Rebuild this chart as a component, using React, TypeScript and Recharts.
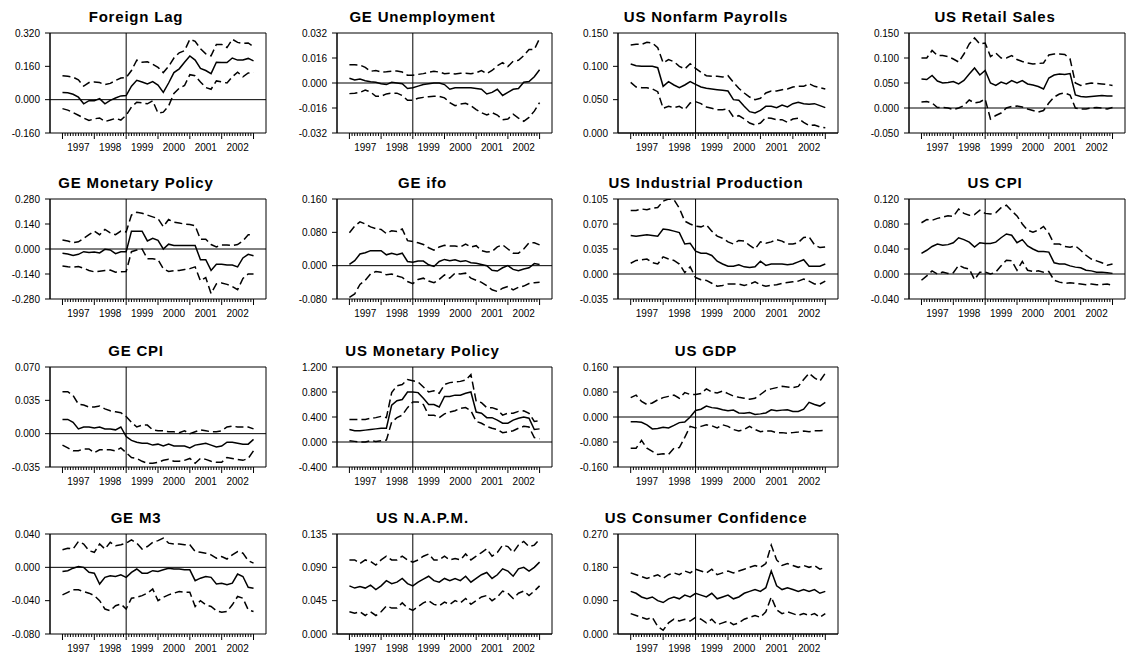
import React from 'react';
import { LineChart, Line, XAxis, YAxis, ReferenceLine, ReferenceArea } from 'recharts';

const FONT = '"Liberation Sans", Arial, Helvetica, sans-serif';

// month index (0 = Jan 1997), sampled every two months
const MONTHS = [0, 2, 4, 6, 8, 10, 12, 14, 16, 18, 20, 22, 24, 26, 28, 30, 32, 34, 36, 38, 40, 42, 44, 46, 48, 50, 52, 54, 56, 58, 60, 62, 64, 66, 68, 70, 72];
const TICK_MONTHS = [0, 1, 2, 3, 4, 5, 6, 7, 8, 9, 10, 11, 12, 13, 14, 15, 16, 17, 18, 19, 20, 21, 22, 23, 24, 25, 26, 27, 28, 29, 30, 31, 32, 33, 34, 35, 36, 37, 38, 39, 40, 41, 42, 43, 44, 45, 46, 47, 48, 49, 50, 51, 52, 53, 54, 55, 56, 57, 58, 59, 60, 61, 62, 63, 64, 65, 66, 67, 68, 69, 70, 71, 72];
const YEAR_LABELS = ['1997', '1998', '1999', '2000', '2001', '2002'];

// Foreign Lag
const foreignLagMid = [0.034, 0.033, 0.026, 0.012, -0.02, -0.005, -0.005, 0.005, -0.02, -0.003, 0.008, 0.018, 0.02, 0.065, 0.093, 0.085, 0.075, 0.087, 0.07, 0.035, 0.08, 0.13, 0.148, 0.18, 0.21, 0.19, 0.15, 0.14, 0.125, 0.18, 0.178, 0.178, 0.2, 0.19, 0.19, 0.198, 0.186];
const foreignLagUp = [0.115, 0.112, 0.108, 0.095, 0.065, 0.082, 0.085, 0.082, 0.072, 0.078, 0.092, 0.104, 0.106, 0.14, 0.19, 0.18, 0.182, 0.17, 0.155, 0.13, 0.16, 0.2, 0.225, 0.235, 0.29, 0.28, 0.245, 0.22, 0.21, 0.265, 0.265, 0.25, 0.29, 0.275, 0.27, 0.272, 0.255];
const foreignLagLo = [-0.043, -0.05, -0.062, -0.075, -0.088, -0.1, -0.092, -0.088, -0.105, -0.098, -0.09, -0.098, -0.075, -0.035, -0.012, -0.015, -0.02, -0.005, -0.065, -0.06, -0.03, 0.03, 0.055, 0.068, 0.12, 0.115, 0.085, 0.058, 0.05, 0.09, 0.085, 0.08, 0.11, 0.132, 0.11, 0.128, 0.13];
const foreignLagTicks = [-0.16, 0, 0.16, 0.32];

// GE Unemployment
const geUnempMid = [0.003, 0.002, 0.0025, 0.0015, 0.0008, 0.0005, -0.0005, -0.001, 0.0005, 0, -0.0005, -0.0035, -0.003, -0.002, -0.001, -0.0005, 0, 0, -0.001, -0.004, -0.003, -0.003, -0.003, -0.003, -0.0035, -0.004, -0.007, -0.006, -0.004, -0.008, -0.006, -0.004, -0.0035, 0.0005, 0.001, 0.004, 0.0085];
const geUnempUp = [0.0117, 0.0117, 0.0115, 0.01, 0.0075, 0.008, 0.007, 0.0072, 0.0075, 0.0077, 0.007, 0.005, 0.005, 0.0055, 0.006, 0.0068, 0.0075, 0.007, 0.006, 0.0062, 0.0058, 0.0062, 0.0062, 0.006, 0.0065, 0.008, 0.006, 0.008, 0.011, 0.013, 0.0105, 0.014, 0.0145, 0.0175, 0.0215, 0.0215, 0.0285];
const geUnempLo = [-0.0068, -0.0066, -0.006, -0.0045, -0.0058, -0.0085, -0.0085, -0.007, -0.0065, -0.0065, -0.008, -0.011, -0.011, -0.0098, -0.0092, -0.0088, -0.0085, -0.0085, -0.0095, -0.0125, -0.0145, -0.0135, -0.013, -0.0145, -0.017, -0.019, -0.0205, -0.019, -0.0205, -0.0235, -0.023, -0.02, -0.0225, -0.0245, -0.022, -0.018, -0.0125];
const geUnempTicks = [-0.032, -0.016, 0, 0.016, 0.032];

// US Nonfarm Payrolls
const usPayrollsMid = [0.1035, 0.101, 0.1, 0.1, 0.1, 0.098, 0.07, 0.077, 0.072, 0.068, 0.072, 0.077, 0.073, 0.069, 0.067, 0.066, 0.065, 0.064, 0.063, 0.05, 0.049, 0.04, 0.032, 0.03, 0.034, 0.04, 0.04, 0.038, 0.042, 0.039, 0.044, 0.046, 0.044, 0.043, 0.044, 0.041, 0.038];
const usPayrollsUp = [0.132, 0.133, 0.133, 0.136, 0.135, 0.128, 0.105, 0.11, 0.107, 0.1, 0.096, 0.104, 0.097, 0.091, 0.086, 0.085, 0.085, 0.084, 0.086, 0.076, 0.067, 0.06, 0.054, 0.05, 0.052, 0.06, 0.063, 0.063, 0.065, 0.066, 0.069, 0.07, 0.07, 0.074, 0.07, 0.068, 0.066];
const usPayrollsLo = [0.076, 0.069, 0.068, 0.068, 0.066, 0.062, 0.037, 0.04, 0.038, 0.04, 0.035, 0.045, 0.047, 0.044, 0.039, 0.037, 0.035, 0.035, 0.036, 0.024, 0.026, 0.021, 0.015, 0.012, 0.015, 0.023, 0.022, 0.02, 0.02, 0.016, 0.021, 0.022, 0.016, 0.011, 0.012, 0.009, 0.008];
const usPayrollsTicks = [0, 0.05, 0.1, 0.15];

// US Retail Sales
const usRetailMid = [0.058, 0.057, 0.065, 0.054, 0.05, 0.051, 0.053, 0.048, 0.055, 0.068, 0.08, 0.066, 0.075, 0.05, 0.045, 0.052, 0.048, 0.055, 0.05, 0.055, 0.048, 0.046, 0.043, 0.038, 0.06, 0.066, 0.068, 0.067, 0.069, 0.026, 0.023, 0.022, 0.023, 0.024, 0.025, 0.024, 0.024];
const usRetailUp = [0.1, 0.1, 0.115, 0.105, 0.105, 0.103, 0.098, 0.092, 0.108, 0.128, 0.14, 0.128, 0.13, 0.103, 0.11, 0.1, 0.1, 0.105, 0.097, 0.093, 0.09, 0.088, 0.089, 0.09, 0.106, 0.108, 0.108, 0.107, 0.098, 0.05, 0.045, 0.048, 0.05, 0.049, 0.048, 0.047, 0.045];
const usRetailLo = [0.012, 0.013, 0.01, 0.001, 0.001, 0, -0.003, 0, 0.005, 0.016, 0.01, 0.012, 0.018, -0.022, -0.015, -0.01, 0, 0.003, 0.004, 0.002, -0.002, -0.005, -0.008, -0.005, 0.01, 0.022, 0.028, 0.03, 0.026, 0, -0.002, -0.002, 0, 0.001, 0, -0.002, 0.001];
const usRetailTicks = [-0.05, 0, 0.05, 0.1, 0.15];

// GE Monetary Policy
const geMonPolMid = [-0.024, -0.028, -0.036, -0.03, -0.015, -0.02, -0.017, -0.022, -0.002, -0.005, -0.026, -0.015, -0.015, 0.1, 0.1, 0.1, 0.045, 0.06, 0.048, 0, 0.027, 0.02, 0.02, 0.02, 0.02, 0.02, -0.06, -0.06, -0.12, -0.085, -0.085, -0.09, -0.09, -0.1, -0.05, -0.03, -0.038];
const geMonPolUp = [0.05, 0.045, 0.035, 0.04, 0.06, 0.08, 0.1, 0.08, 0.11, 0.09, 0.08, 0.1, 0.096, 0.19, 0.206, 0.2, 0.19, 0.18, 0.17, 0.125, 0.165, 0.15, 0.145, 0.14, 0.137, 0.13, 0.055, 0.055, 0.025, 0.012, 0.022, 0.022, 0.02, 0.025, 0.045, 0.08, 0.078];
const geMonPolLo = [-0.095, -0.1, -0.102, -0.098, -0.108, -0.12, -0.128, -0.124, -0.12, -0.118, -0.13, -0.128, -0.126, -0.015, -0.006, 0, -0.055, -0.055, -0.06, -0.11, -0.126, -0.122, -0.12, -0.115, -0.11, -0.1, -0.178, -0.16, -0.25, -0.195, -0.19, -0.198, -0.21, -0.228, -0.165, -0.14, -0.14];
const geMonPolTicks = [-0.28, -0.14, 0, 0.14, 0.28];

// GE ifo
const geIfoMid = [0.003, 0.012, 0.028, 0.031, 0.036, 0.036, 0.036, 0.026, 0.03, 0.026, 0.03, 0.01, 0.008, 0.011, 0.011, 0.002, -0.002, 0.01, 0.015, 0.012, 0.014, 0.01, 0.012, 0.007, 0.006, 0.003, 0, -0.011, -0.013, -0.005, 0, -0.009, -0.012, -0.008, -0.005, 0.005, 0.003];
const geIfoUp = [0.079, 0.095, 0.105, 0.1, 0.093, 0.089, 0.087, 0.077, 0.084, 0.082, 0.088, 0.06, 0.058, 0.055, 0.051, 0.043, 0.037, 0.045, 0.049, 0.047, 0.047, 0.045, 0.052, 0.045, 0.048, 0.036, 0.033, 0.034, 0.045, 0.05, 0.04, 0.03, 0.03, 0.04, 0.055, 0.055, 0.05];
const geIfoLo = [-0.076, -0.068, -0.045, -0.035, -0.02, -0.014, -0.016, -0.022, -0.02, -0.025, -0.028, -0.038, -0.043, -0.033, -0.03, -0.037, -0.041, -0.033, -0.022, -0.03, -0.018, -0.02, -0.018, -0.03, -0.035, -0.04, -0.048, -0.058, -0.062, -0.054, -0.05, -0.058, -0.052, -0.049, -0.043, -0.041, -0.04];
const geIfoTicks = [-0.08, 0, 0.08, 0.16];

// US Industrial Production
const usIndProdMid = [0.054, 0.053, 0.054, 0.055, 0.054, 0.053, 0.063, 0.062, 0.06, 0.058, 0.042, 0.043, 0.032, 0.029, 0.029, 0.026, 0.018, 0.014, 0.011, 0.011, 0.013, 0.01, 0.009, 0.01, 0.018, 0.012, 0.014, 0.014, 0.014, 0.013, 0.014, 0.017, 0.02, 0.011, 0.011, 0.011, 0.014];
const usIndProdUp = [0.089, 0.089, 0.091, 0.09, 0.092, 0.093, 0.102, 0.105, 0.104, 0.092, 0.074, 0.07, 0.067, 0.066, 0.069, 0.06, 0.053, 0.05, 0.045, 0.042, 0.047, 0.046, 0.04, 0.035, 0.045, 0.043, 0.045, 0.048, 0.046, 0.042, 0.042, 0.044, 0.051, 0.052, 0.041, 0.037, 0.038];
const usIndProdLo = [0.015, 0.019, 0.02, 0.021, 0.016, 0.014, 0.024, 0.021, 0.019, 0.014, 0.002, 0.01, -0.005, -0.008, -0.009, -0.013, -0.017, -0.016, -0.014, -0.014, -0.014, -0.016, -0.014, -0.011, -0.015, -0.017, -0.016, -0.015, -0.013, -0.012, -0.011, -0.01, -0.007, -0.01, -0.014, -0.014, -0.01];
const usIndProdTicks = [-0.035, 0, 0.035, 0.07, 0.105];

// US CPI
const usCpiMid = [0.033, 0.038, 0.044, 0.048, 0.046, 0.047, 0.05, 0.058, 0.055, 0.051, 0.043, 0.05, 0.049, 0.049, 0.051, 0.058, 0.064, 0.062, 0.05, 0.055, 0.045, 0.04, 0.036, 0.036, 0.035, 0.018, 0.016, 0.016, 0.013, 0.011, 0.01, 0.006, 0.005, 0.003, 0.003, 0.002, 0.001];
const usCpiUp = [0.082, 0.087, 0.086, 0.089, 0.091, 0.093, 0.092, 0.104, 0.097, 0.094, 0.095, 0.102, 0.097, 0.096, 0.098, 0.106, 0.11, 0.101, 0.093, 0.08, 0.07, 0.067, 0.07, 0.076, 0.065, 0.048, 0.048, 0.044, 0.043, 0.045, 0.038, 0.03, 0.024, 0.021, 0.018, 0.014, 0.016];
const usCpiLo = [-0.01, -0.003, 0.005, 0, 0.003, 0.001, 0.002, 0.014, 0.01, 0.008, -0.009, 0.003, 0.003, 0, 0.003, 0.013, 0.022, 0.021, 0.006, 0.02, 0.006, 0.004, 0.005, 0.003, 0.004, -0.01, -0.013, -0.015, -0.014, -0.015, -0.016, -0.017, -0.016, -0.017, -0.017, -0.016, -0.018];
const usCpiTicks = [-0.04, 0, 0.04, 0.08, 0.12];

// GE CPI
const geCpiMid = [0.015, 0.015, 0.012, 0.005, 0.007, 0.007, 0.006, 0.007, 0.005, 0.005, 0.004, 0.007, -0.003, -0.007, -0.009, -0.01, -0.01, -0.012, -0.011, -0.013, -0.011, -0.013, -0.013, -0.013, -0.015, -0.012, -0.011, -0.01, -0.012, -0.014, -0.013, -0.009, -0.009, -0.01, -0.011, -0.011, -0.006];
const geCpiUp = [0.044, 0.044, 0.04, 0.031, 0.03, 0.028, 0.028, 0.029, 0.026, 0.024, 0.023, 0.022, 0.018, 0.012, 0.007, 0.009, 0.009, 0.004, 0.003, 0.003, 0.002, 0.002, 0.001, 0.003, 0, 0.002, 0.004, 0.003, 0.002, 0.002, 0.003, 0.007, 0.008, 0.007, 0.007, 0.007, 0.005];
const geCpiLo = [-0.012, -0.015, -0.018, -0.018, -0.016, -0.016, -0.02, -0.017, -0.017, -0.017, -0.018, -0.015, -0.02, -0.025, -0.026, -0.029, -0.031, -0.031, -0.03, -0.028, -0.027, -0.029, -0.029, -0.028, -0.026, -0.031, -0.026, -0.027, -0.029, -0.03, -0.03, -0.025, -0.026, -0.027, -0.028, -0.026, -0.018];
const geCpiTicks = [-0.035, 0, 0.035, 0.07];

// US Monetary Policy
const usMonPolMid = [0.2, 0.18, 0.18, 0.19, 0.2, 0.21, 0.22, 0.22, 0.59, 0.66, 0.68, 0.8, 0.8, 0.79, 0.7, 0.6, 0.6, 0.56, 0.73, 0.73, 0.75, 0.75, 0.78, 0.8, 0.48, 0.46, 0.39, 0.39, 0.35, 0.3, 0.3, 0.35, 0.38, 0.4, 0.38, 0.2, 0.21];
const usMonPolUp = [0.36, 0.36, 0.36, 0.36, 0.38, 0.39, 0.41, 0.39, 0.79, 0.9, 0.92, 1.0, 0.98, 0.96, 0.88, 0.8, 0.82, 0.78, 0.92, 0.95, 0.96, 0.97, 0.99, 1.08, 0.65, 0.63, 0.55, 0.55, 0.52, 0.43, 0.46, 0.46, 0.49, 0.5, 0.46, 0.33, 0.34];
const usMonPolLo = [0.02, 0.01, 0, 0, 0.02, 0.01, 0.02, 0.03, 0.32, 0.39, 0.43, 0.55, 0.64, 0.64, 0.6, 0.43, 0.43, 0.39, 0.45, 0.48, 0.5, 0.54, 0.55, 0.5, 0.33, 0.3, 0.25, 0.22, 0.2, 0.15, 0.16, 0.18, 0.22, 0.25, 0.24, 0.07, 0.05];
const usMonPolTicks = [-0.4, 0, 0.4, 0.8, 1.2];

// US GDP
const usGdpMid = [-0.015, -0.015, -0.017, -0.025, -0.038, -0.037, -0.033, -0.035, -0.027, -0.018, -0.016, 0, 0.021, 0.025, 0.035, 0.03, 0.028, 0.023, 0.02, 0.022, 0.013, 0.012, 0.014, 0.008, 0.01, 0.013, 0.023, 0.02, 0.022, 0.023, 0.018, 0.018, 0.025, 0.047, 0.04, 0.035, 0.047];
const usGdpUp = [0.062, 0.07, 0.05, 0.04, 0.045, 0.055, 0.062, 0.066, 0.07, 0.06, 0.078, 0.072, 0.072, 0.075, 0.09, 0.08, 0.077, 0.083, 0.075, 0.067, 0.063, 0.06, 0.057, 0.06, 0.072, 0.085, 0.09, 0.094, 0.098, 0.096, 0.094, 0.098, 0.12, 0.14, 0.125, 0.115, 0.14];
const usGdpLo = [-0.1, -0.1, -0.075, -0.1, -0.11, -0.12, -0.118, -0.12, -0.1, -0.098, -0.065, -0.03, -0.035, -0.03, -0.025, -0.028, -0.035, -0.025, -0.03, -0.04, -0.045, -0.04, -0.03, -0.04, -0.047, -0.045, -0.045, -0.05, -0.05, -0.052, -0.05, -0.048, -0.045, -0.047, -0.044, -0.044, -0.043];
const usGdpTicks = [-0.16, -0.08, 0, 0.08, 0.16];

// GE M3
const geM3Mid = [-0.005, -0.004, -0.001, 0.001, 0, -0.006, -0.007, -0.02, -0.012, -0.01, -0.011, -0.009, -0.012, -0.006, -0.002, -0.007, -0.007, -0.004, -0.005, -0.003, -0.001, -0.002, -0.002, -0.003, -0.003, -0.016, -0.013, -0.011, -0.012, -0.02, -0.019, -0.021, -0.019, -0.008, -0.011, -0.024, -0.025];
const geM3Up = [0.021, 0.023, 0.022, 0.031, 0.028, 0.02, 0.018, 0.028, 0.022, 0.03, 0.026, 0.027, 0.029, 0.033, 0.029, 0.022, 0.025, 0.03, 0.032, 0.035, 0.029, 0.028, 0.028, 0.027, 0.027, 0.019, 0.018, 0.017, 0.015, 0.011, 0.013, 0.01, 0.015, 0.019, 0.017, 0.008, 0.005];
const geM3Lo = [-0.033, -0.03, -0.027, -0.027, -0.029, -0.031, -0.034, -0.04, -0.05, -0.052, -0.046, -0.044, -0.05, -0.037, -0.036, -0.034, -0.031, -0.026, -0.04, -0.036, -0.033, -0.031, -0.029, -0.03, -0.03, -0.047, -0.04, -0.045, -0.047, -0.052, -0.054, -0.053, -0.045, -0.035, -0.037, -0.051, -0.053];
const geM3Ticks = [-0.08, -0.04, 0, 0.04];

// US N.A.P.M.
const usNapmMid = [0.065, 0.062, 0.064, 0.062, 0.066, 0.06, 0.065, 0.072, 0.068, 0.07, 0.075, 0.068, 0.065, 0.07, 0.074, 0.078, 0.072, 0.07, 0.075, 0.072, 0.075, 0.072, 0.078, 0.07, 0.075, 0.08, 0.083, 0.075, 0.08, 0.088, 0.085, 0.078, 0.088, 0.09, 0.085, 0.09, 0.097];
const usNapmUp = [0.1, 0.1, 0.095, 0.1, 0.098, 0.093, 0.1, 0.105, 0.1, 0.1, 0.105, 0.1, 0.097, 0.1, 0.105, 0.108, 0.1, 0.1, 0.105, 0.1, 0.102, 0.1, 0.108, 0.1, 0.105, 0.11, 0.115, 0.105, 0.11, 0.12, 0.118, 0.11, 0.12, 0.125, 0.118, 0.12, 0.128];
const usNapmLo = [0.03, 0.028, 0.03, 0.025, 0.03, 0.025, 0.03, 0.038, 0.035, 0.035, 0.042, 0.035, 0.032, 0.037, 0.042, 0.045, 0.04, 0.038, 0.043, 0.04, 0.045, 0.042, 0.048, 0.04, 0.045, 0.05, 0.052, 0.045, 0.05, 0.058, 0.055, 0.048, 0.055, 0.058, 0.052, 0.058, 0.065];
const usNapmTicks = [0, 0.045, 0.09, 0.135];

// US Consumer Confidence
const usConfMid = [0.115, 0.11, 0.1, 0.095, 0.1, 0.09, 0.085, 0.095, 0.1, 0.095, 0.105, 0.1, 0.11, 0.105, 0.1, 0.11, 0.095, 0.1, 0.105, 0.095, 0.1, 0.11, 0.115, 0.12, 0.115, 0.125, 0.17, 0.13, 0.12, 0.125, 0.12, 0.115, 0.12, 0.115, 0.12, 0.11, 0.115];
const usConfUp = [0.165, 0.16, 0.155, 0.15, 0.155, 0.16, 0.15, 0.16, 0.165, 0.16, 0.17, 0.165, 0.175, 0.17, 0.165, 0.175, 0.16, 0.165, 0.17, 0.165, 0.17, 0.175, 0.18, 0.185, 0.18, 0.19, 0.24, 0.2, 0.185, 0.19, 0.185, 0.18, 0.185, 0.18, 0.185, 0.175, 0.18];
const usConfLo = [0.055, 0.05, 0.045, 0.04, 0.045, 0.02, 0.01, 0.03, 0.04, 0.035, 0.04, 0.035, 0.045, 0.04, 0.03, 0.04, 0.025, 0.03, 0.035, 0.025, 0.03, 0.04, 0.045, 0.05, 0.045, 0.06, 0.1, 0.065, 0.055, 0.06, 0.055, 0.05, 0.055, 0.05, 0.055, 0.045, 0.055];
const usConfTicks = [0, 0.09, 0.18, 0.27];

const PANELS = [
  { title: 'Foreign Lag', mid: foreignLagMid, up: foreignLagUp, lo: foreignLagLo, ticks: foreignLagTicks, row: 0, col: 0 },
  { title: 'GE Unemployment', mid: geUnempMid, up: geUnempUp, lo: geUnempLo, ticks: geUnempTicks, row: 0, col: 1 },
  { title: 'US Nonfarm Payrolls', mid: usPayrollsMid, up: usPayrollsUp, lo: usPayrollsLo, ticks: usPayrollsTicks, row: 0, col: 2 },
  { title: 'US Retail Sales', mid: usRetailMid, up: usRetailUp, lo: usRetailLo, ticks: usRetailTicks, row: 0, col: 3 },
  { title: 'GE Monetary Policy', mid: geMonPolMid, up: geMonPolUp, lo: geMonPolLo, ticks: geMonPolTicks, row: 1, col: 0 },
  { title: 'GE ifo', mid: geIfoMid, up: geIfoUp, lo: geIfoLo, ticks: geIfoTicks, row: 1, col: 1 },
  { title: 'US Industrial Production', mid: usIndProdMid, up: usIndProdUp, lo: usIndProdLo, ticks: usIndProdTicks, row: 1, col: 2 },
  { title: 'US CPI', mid: usCpiMid, up: usCpiUp, lo: usCpiLo, ticks: usCpiTicks, row: 1, col: 3 },
  { title: 'GE CPI', mid: geCpiMid, up: geCpiUp, lo: geCpiLo, ticks: geCpiTicks, row: 2, col: 0 },
  { title: 'US Monetary Policy', mid: usMonPolMid, up: usMonPolUp, lo: usMonPolLo, ticks: usMonPolTicks, row: 2, col: 1 },
  { title: 'US GDP', mid: usGdpMid, up: usGdpUp, lo: usGdpLo, ticks: usGdpTicks, row: 2, col: 2 },
  { title: 'GE M3', mid: geM3Mid, up: geM3Up, lo: geM3Lo, ticks: geM3Ticks, row: 3, col: 0 },
  { title: 'US N.A.P.M.', mid: usNapmMid, up: usNapmUp, lo: usNapmLo, ticks: usNapmTicks, row: 3, col: 1 },
  { title: 'US Consumer Confidence', mid: usConfMid, up: usConfUp, lo: usConfLo, ticks: usConfTicks, row: 3, col: 2 },
];

// layout
const COL_LEFT = [50, 337, 618, 909];
const COL_W = [216, 215, 220, 216];
const ROW_TOP = [33, 199, 367, 534];
const PLOT_H = 100;
const Y_AXIS_W = 48;
const X_DOMAIN = [-4.7, 76.7];

function MonthTick(props: any) {
  const { x, y, payload } = props;
  const v = payload.value;
  const isYear = v % 12 === 0;
  const label = v % 12 === 6 ? YEAR_LABELS[(v - 6) / 12] : null;
  return (
    <g>
      <line x1={x} x2={x} y1={y} y2={y + (isYear ? 6 : 3)} stroke="#000" strokeWidth={1} />
      {label && (
        <text x={x} y={y + 18} textAnchor="middle" fontSize={10} fontFamily={FONT} fill="#000">
          {label}
        </text>
      )}
    </g>
  );
}

function Panel({ p }: { p: any }) {
  const left = COL_LEFT[p.col];
  const w = COL_W[p.col];
  const top = ROW_TOP[p.row];
  const data = MONTHS.map((t, i) => ({ t, m: p.mid[i], u: p.up[i], l: p.lo[i] }));
  const yMin = p.ticks[0];
  const yMax = p.ticks[p.ticks.length - 1];
  return (
    <div style={{ position: 'absolute', left: left - Y_AXIS_W, top: top - 5 }}>
      <LineChart width={Y_AXIS_W + w + 5} height={PLOT_H + 30} data={data} margin={{ top: 5, right: 5, bottom: 0, left: 0 }}>
        <XAxis
          dataKey="t"
          type="number"
          domain={X_DOMAIN}
          ticks={TICK_MONTHS}
          interval={0}
          tickSize={0}
          tickMargin={0}
          axisLine={false}
          tick={(tp: any) => <MonthTick {...tp} />}
          height={25}
          allowDataOverflow
        />
        <YAxis
          type="number"
          domain={[yMin, yMax]}
          ticks={p.ticks}
          interval={0}
          width={Y_AXIS_W}
          tickSize={5}
          tickMargin={5}
          tickLine={{ stroke: '#000' }}
          axisLine={{ stroke: '#000' }}
          tick={{ fontSize: 10, fill: '#000', fontFamily: FONT }}
          tickFormatter={(v: number) => v.toFixed(3)}
          allowDataOverflow
        />
        <ReferenceArea x1={X_DOMAIN[0]} x2={X_DOMAIN[1]} y1={yMin} y2={yMax} fill="none" fillOpacity={0} stroke="#000" strokeWidth={1} ifOverflow="visible" />
        <ReferenceLine y={0} stroke="#000" strokeWidth={1} />
        <ReferenceLine x={24} stroke="#000" strokeWidth={1} />
        <Line type="linear" dataKey="u" stroke="#000" strokeWidth={1.5} strokeDasharray="8 4" dot={false} isAnimationActive={false} />
        <Line type="linear" dataKey="l" stroke="#000" strokeWidth={1.5} strokeDasharray="8 4" dot={false} isAnimationActive={false} />
        <Line type="linear" dataKey="m" stroke="#000" strokeWidth={1.5} dot={false} isAnimationActive={false} />
      </LineChart>
    </div>
  );
}

export default function App() {
  return (
    <div style={{ position: 'absolute', left: 0, top: 0, width: 1126, height: 656, overflow: 'hidden', background: '#fff', fontFamily: FONT }}>
      {PANELS.map((p) => (
        <Panel key={p.title} p={p} />
      ))}
      <svg width={1126} height={656} style={{ position: 'absolute', left: 0, top: 0, pointerEvents: 'none' }}>
        {PANELS.map((p) => (
          <text
            key={p.title}
            x={COL_LEFT[p.col] + COL_W[p.col] / 2 - 22}
            y={ROW_TOP[p.row] - 11}
            textAnchor="middle"
            fontSize={15}
            fontWeight="bold"
            letterSpacing={0.8}
            fontFamily={FONT}
            fill="#000"
          >
            {p.title}
          </text>
        ))}
      </svg>
    </div>
  );
}
